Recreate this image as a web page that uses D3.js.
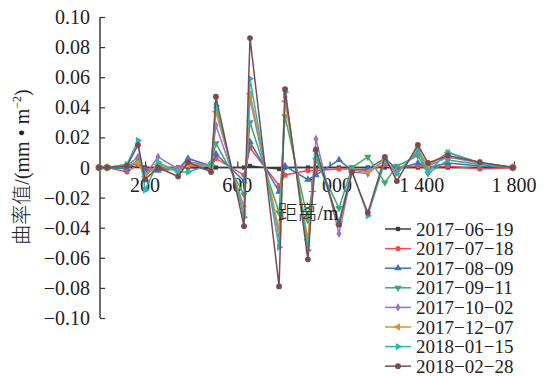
<!DOCTYPE html>
<html>
<head>
<meta charset="utf-8">
<script src="https://cdn.jsdelivr.net/npm/d3@7"></script>
<style>
  body { margin: 0; background: #fff; }
  svg text { font-family: "Liberation Serif", "Noto Sans CJK SC", serif; fill: #222; }
  svg text.cjk { font-weight: 300; }
</style>
</head>
<body>
<svg id="chart" width="547" height="376"></svg>
<script>
// distance of each measuring point (m)
var distances = [0, 35, 121, 169, 200, 256, 343, 386, 486, 507, 629, 655, 781, 807, 906, 941, 1041, 1097, 1166, 1240, 1292, 1383, 1427, 1513, 1652, 1795];

// curvature values per survey date
var s20170619 = [0, 0, 0, 0.001, 0, 0, 0, 0, -0.001, 0, 0, 0.001, -0.001, 0, 0, 0, 0, 0, 0, 0, 0, 0, 0, 0, 0, 0];
var s20170718 = [0, 0, -0.003, 0.002, -0.001, -0.001, 0, 0.001, 0.001, 0.006, -0.005, 0.013, -0.012, -0.005, -0.002, -0.002, -0.001, -0.001, -0.002, 0.002, 0, 0.001, 0, 0.001, -0.001, 0];
var s20170809 = [0, 0, -0.001, 0.004, -0.002, -0.002, -0.001, 0.006, 0.001, 0.009, -0.009, 0.017, -0.016, 0.001, -0.008, -0.005, 0.005, -0.002, -0.001, 0.006, -0.001, 0.003, 0, 0.003, 0.001, 0];
var s20170911 = [0, 0, 0, 0.005, -0.004, 0.001, -0.002, 0.002, 0.002, 0.016, -0.018, 0.030, -0.030, 0.034, -0.035, 0.005, -0.027, 0, 0.007, -0.010, 0.001, 0.008, -0.004, 0.005, 0.002, 0];
var s20171002 = [0, 0, 0.001, 0.007, -0.005, 0.007, -0.001, 0.004, 0.001, 0.028, -0.026, 0.046, -0.045, 0.047, -0.052, 0.019, -0.044, -0.003, -0.004, 0.005, -0.003, 0.010, 0.001, 0.007, 0.003, 0];
var s20171207 = [0, 0, 0.002, 0.003, -0.006, 0.002, -0.003, 0.002, 0.001, 0.037, -0.030, 0.049, -0.042, 0.044, -0.048, 0.011, -0.038, -0.002, -0.003, 0.005, -0.004, 0.012, 0.001, 0.010, 0.003, 0];
var s20180115 = [0, 0, 0.002, 0.018, -0.015, 0.0035, -0.003, -0.003, 0.002, 0.041, -0.033, 0.059, -0.053, 0.050, -0.055, 0.008, -0.036, -0.002, -0.032, 0.004, -0.004, 0.011, -0.003, 0.010, 0.003, 0];
var s20180228 = [0, 0, 0.001, 0.015, -0.008, 0, -0.006, 0.0035, -0.003, 0.047, -0.039, 0.086, -0.079, 0.052, -0.061, 0.012, -0.038, -0.003, -0.030, 0.007, -0.009, 0.015, 0.003, 0.008, 0.0035, 0];

var seriesNames = ["2017\u221206\u221219", "2017\u221207\u221218", "2017\u221208\u221209", "2017\u221209\u221211",
                   "2017\u221210\u221202", "2017\u221212\u221207", "2018\u221201\u221215", "2018\u221202\u221228"];
var seriesValues = [s20170619, s20170718, s20170809, s20170911, s20171002, s20171207, s20180115, s20180228];
var colors = ["#3d3d3d", "#ef4a4f", "#3c70c0", "#3fa86d", "#9a74c4", "#d2952c", "#2bb6b0", "#7b4a52"];

var xTicks = [200, 600, 1000, 1400, 1800];
var yTicks = [-0.10, -0.08, -0.06, -0.04, -0.02, 0, 0.02, 0.04, 0.06, 0.08, 0.10];

var svg = d3.select("#chart");

var x = d3.scaleLinear().domain([0, 1800]).range([99, 514]);
var y = d3.scaleLinear().domain([-0.10, 0.10]).range([318, 17]);

// markers: square, circle, triangles, diamond
var markerFns = [
  function (g) { return g.append("path").attr("d", d3.symbol(d3.symbolSquare, 18)()); },
  function (g) { return g.append("circle").attr("r", 2.6); },
  function (g) { return g.append("path").attr("d", d3.symbol(d3.symbolTriangle, 24)()); },
  function (g) { return g.append("path").attr("d", d3.symbol(d3.symbolTriangle, 24)()).attr("transform", "rotate(180)"); },
  function (g) { return g.append("path").attr("d", d3.symbol(d3.symbolDiamond, 22)()); },
  function (g) { return g.append("path").attr("d", d3.symbol(d3.symbolTriangle, 24)()).attr("transform", "rotate(-90)"); },
  function (g) { return g.append("path").attr("d", d3.symbol(d3.symbolTriangle, 24)()).attr("transform", "rotate(90)"); },
  function (g) { return g.append("circle").attr("r", 2.9); }
];

// y axis
var yAxis = d3.axisRight(y).tickValues(yTicks).tickSize(5).tickFormat("");
var yg = svg.append("g").attr("transform", "translate(100,0)").call(yAxis);
yg.select(".domain").attr("stroke", "#333").attr("stroke-width", 1.4).attr("d", "M0," + y(0.10) + "V" + y(-0.10));
yg.selectAll(".tick line").attr("stroke", "#333").attr("stroke-width", 1.2);

svg.append("g").selectAll("text")
  .data(yTicks)
  .enter()
  .append("text")
  .attr("x", 90)
  .attr("y", function (d) { return y(d); })
  .attr("dy", "0.35em")
  .attr("text-anchor", "end")
  .attr("font-size", 20)
  .text(function (d) {
    if (Math.abs(d) < 1e-9) return "0";
    return d3.format(".2f")(d);
  });

// x axis along zero
var xAxis = d3.axisTop(x).tickValues(xTicks).tickSize(6).tickFormat("");
var xg = svg.append("g").attr("transform", "translate(0," + y(0) + ")").call(xAxis);
xg.select(".domain").attr("stroke", "#333").attr("stroke-width", 1.4).attr("d", "M100,0H" + x(1800));
xg.selectAll(".tick line").attr("stroke", "#333").attr("stroke-width", 1.2);

svg.append("g").selectAll("text")
  .data(xTicks)
  .enter()
  .append("text")
  .attr("x", function (d) { return x(d); })
  .attr("y", y(0) + 24)
  .attr("text-anchor", "middle")
  .attr("font-size", 20)
  .text(function (d) { return d3.format(",")(d).replace(",", " "); });

// series
var line = d3.line()
  .x(function (d, i) { return x(distances[i]); })
  .y(function (d) { return y(d); });

seriesValues.forEach(function (vals, k) {
  var g = svg.append("g");
  g.append("path")
    .attr("d", line(vals))
    .attr("fill", "none")
    .attr("stroke", colors[k])
    .attr("stroke-width", 1.5);
  g.selectAll("g.pt")
    .data(vals)
    .enter()
    .append("g")
    .attr("class", "pt")
    .attr("transform", function (d, i) { return "translate(" + x(distances[i]) + "," + y(d) + ")"; })
    .each(function () { markerFns[k](d3.select(this)).attr("fill", colors[k]); });
});

// axis titles
svg.append("text")
  .attr("class", "cjk")
  .attr("x", 308)
  .attr("y", 220)
  .attr("text-anchor", "middle")
  .attr("font-size", 20)
  .text("距离/m");

var yt = svg.append("text")
  .attr("class", "cjk")
  .attr("transform", "translate(29,167) rotate(-90)")
  .attr("text-anchor", "middle")
  .attr("font-size", 20);
yt.append("tspan").text("曲率值/(mm • m");
yt.append("tspan").attr("font-size", 12).attr("dy", -8).text("\u22122");
yt.append("tspan").attr("dy", 8).text(")");

// legend
var legend = svg.append("g");
seriesNames.forEach(function (name, k) {
  var ly = 229 + k * 19.6;
  legend.append("line")
    .attr("x1", 385).attr("x2", 411)
    .attr("y1", ly).attr("y2", ly)
    .attr("stroke", colors[k])
    .attr("stroke-width", 1.5);
  var m = legend.append("g").attr("transform", "translate(398," + ly + ")");
  markerFns[k](m).attr("fill", colors[k]);
  legend.append("text")
    .attr("x", 416)
    .attr("y", ly)
    .attr("dy", "0.35em")
    .attr("font-size", 19)
    .text(name);
});
</script>
</body>
</html>
